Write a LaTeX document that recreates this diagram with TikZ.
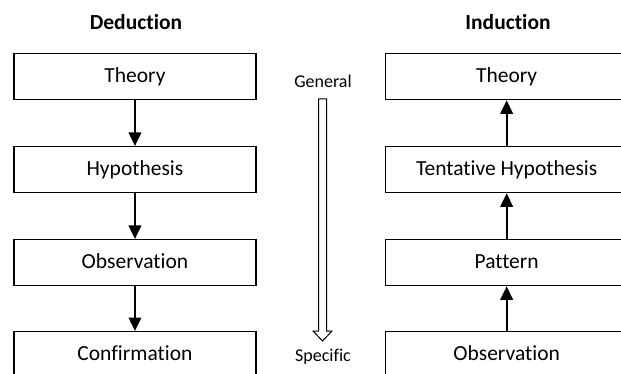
\documentclass[tikz,border=0pt]{standalone}
\usepackage{fontspec}
\setmainfont{Carlito}[Ligatures={NoCommon,NoContextual}]
\usetikzlibrary{arrows.meta}
\begin{document}
\begin{tikzpicture}[x=1pt,y=-1pt,
  stage/.style={draw=black, line width=1.3pt, minimum width=242pt, minimum height=46pt,
    inner sep=0pt, text height=14pt, text depth=2pt, anchor=north west,
    font=\fontsize{21.5}{25}\selectfont},
  heading/.style={font=\bfseries\fontsize{21.5}{25}\selectfont},
  sidelabel/.style={font=\fontsize{18}{21}\selectfont},
  flow/.style={line width=2pt, -{Triangle[width=12.5pt,length=13.5pt]}},
  hollow/.style={draw=black, line width=1pt, fill=white, line join=miter}
]
\useasboundingbox (0,0) rectangle (621,374);
\clip (0,0) rectangle (621,374);

% column headings
\node[heading] (hd) at (136,22) {Deduction};
\node[heading] (hi) at (508,22) {Induction};

% deduction chain
\node[stage] (d1) at (13.3,53)  {Theory};
\node[stage] (d2) at (13.3,146) {Hypothesis};
\node[stage] (d3) at (13.3,239) {Observation};
\node[stage] (d4) at (13.3,331) {Confirmation};

% induction chain
\node[stage] (i1) at (385,53)  {Theory};
\node[stage] (i2) at (385,146) {Tentative Hypothesis};
\node[stage] (i3) at (385,239) {Pattern};
\node[stage] (i4) at (385,331) {Observation};

\draw[flow] (d1.south) -- (d2.north);
\draw[flow] (d2.south) -- (d3.north);
\draw[flow] (d3.south) -- (d4.north);

\draw[flow] (i4.north) -- (i3.south);
\draw[flow] (i3.north) -- (i2.south);
\draw[flow] (i2.north) -- (i1.south);

% general-to-specific scale
\node[sidelabel] (gen) at (323,81) {General};
\node[sidelabel] (spe) at (323,357) {Specific};
\draw[hollow] (318.5,99) -- (326.5,99) -- (326.5,331) -- (332,331) -- (322.5,341)
  -- (313,331) -- (318.5,331) -- cycle;
\end{tikzpicture}
\end{document}
